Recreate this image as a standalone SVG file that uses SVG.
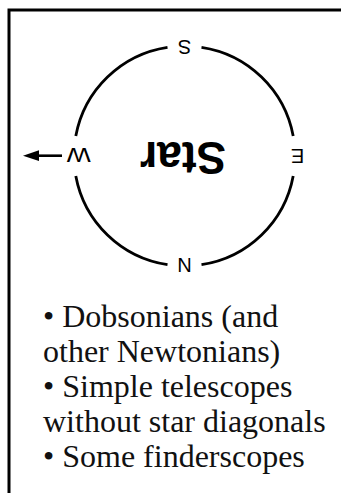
<svg xmlns="http://www.w3.org/2000/svg" width="341" height="493" viewBox="0 0 341 493">
  <style>
    .ring { fill: none; stroke: #000; stroke-width: 2.8; }
    .lbl { font-family: "Liberation Sans", "DejaVu Sans", sans-serif; font-size: 20px; fill: #000; text-anchor: middle; }
    .star { font-family: "Liberation Sans", "DejaVu Sans", sans-serif; font-weight: bold; font-size: 46px; fill: #000; text-anchor: middle; }
    .body { font-family: "Liberation Serif", "DejaVu Serif", serif; font-size: 32px; fill: #111; }
  </style>
  <rect width="341" height="493" fill="#fff"/>
  <g id="frame">
    <path d="M9,493 V10 H341" fill="none" stroke="#000" stroke-width="3"/>
  </g>
  <g id="compass">
    <path class="ring" d="M167.5,47.3 A110,110 0 0 0 75.8,136"/>
    <path class="ring" d="M75.8,176 A110,110 0 0 0 167.5,264.7"/>
    <path class="ring" d="M201.5,264.7 A110,110 0 0 0 293.2,176"/>
    <path class="ring" d="M293.2,136 A110,110 0 0 0 201.5,47.3"/>
  </g>
  <g id="label-S"><text class="lbl" x="184.5" y="54.7" transform="rotate(180 184.5 47.5)">S</text></g>
  <g id="label-N"><text class="lbl" x="184.5" y="272.2" transform="rotate(180 184.5 265)">N</text></g>
  <g id="label-W"><text class="lbl" x="78.7" y="162.7" textLength="24" lengthAdjust="spacingAndGlyphs" transform="rotate(180 78.7 155.5)">W</text></g>
  <g id="label-E"><text class="lbl" x="297.5" y="163.7" transform="rotate(180 297.5 156.5)">E</text></g>
  <g id="star"><text class="star" x="183" y="175" textLength="86" lengthAdjust="spacingAndGlyphs" transform="rotate(180 183 158.5)">Star</text></g>
  <g id="connectors">
    <line x1="62" y1="155.7" x2="36" y2="155.7" stroke="#000" stroke-width="2.6"/>
    <polygon points="23,155.7 39,150.3 39,161.1" fill="#000"/>
  </g>
  <g id="list">
    <text class="body" x="43" y="326.7">• Dobsonians (and</text>
    <text class="body" x="43" y="361.7">other Newtonians)</text>
    <text class="body" x="43" y="396.7">• Simple telescopes</text>
    <text class="body" x="43" y="431.7">without star diagonals</text>
    <text class="body" x="43" y="466.7">• Some finderscopes</text>
  </g>
</svg>
